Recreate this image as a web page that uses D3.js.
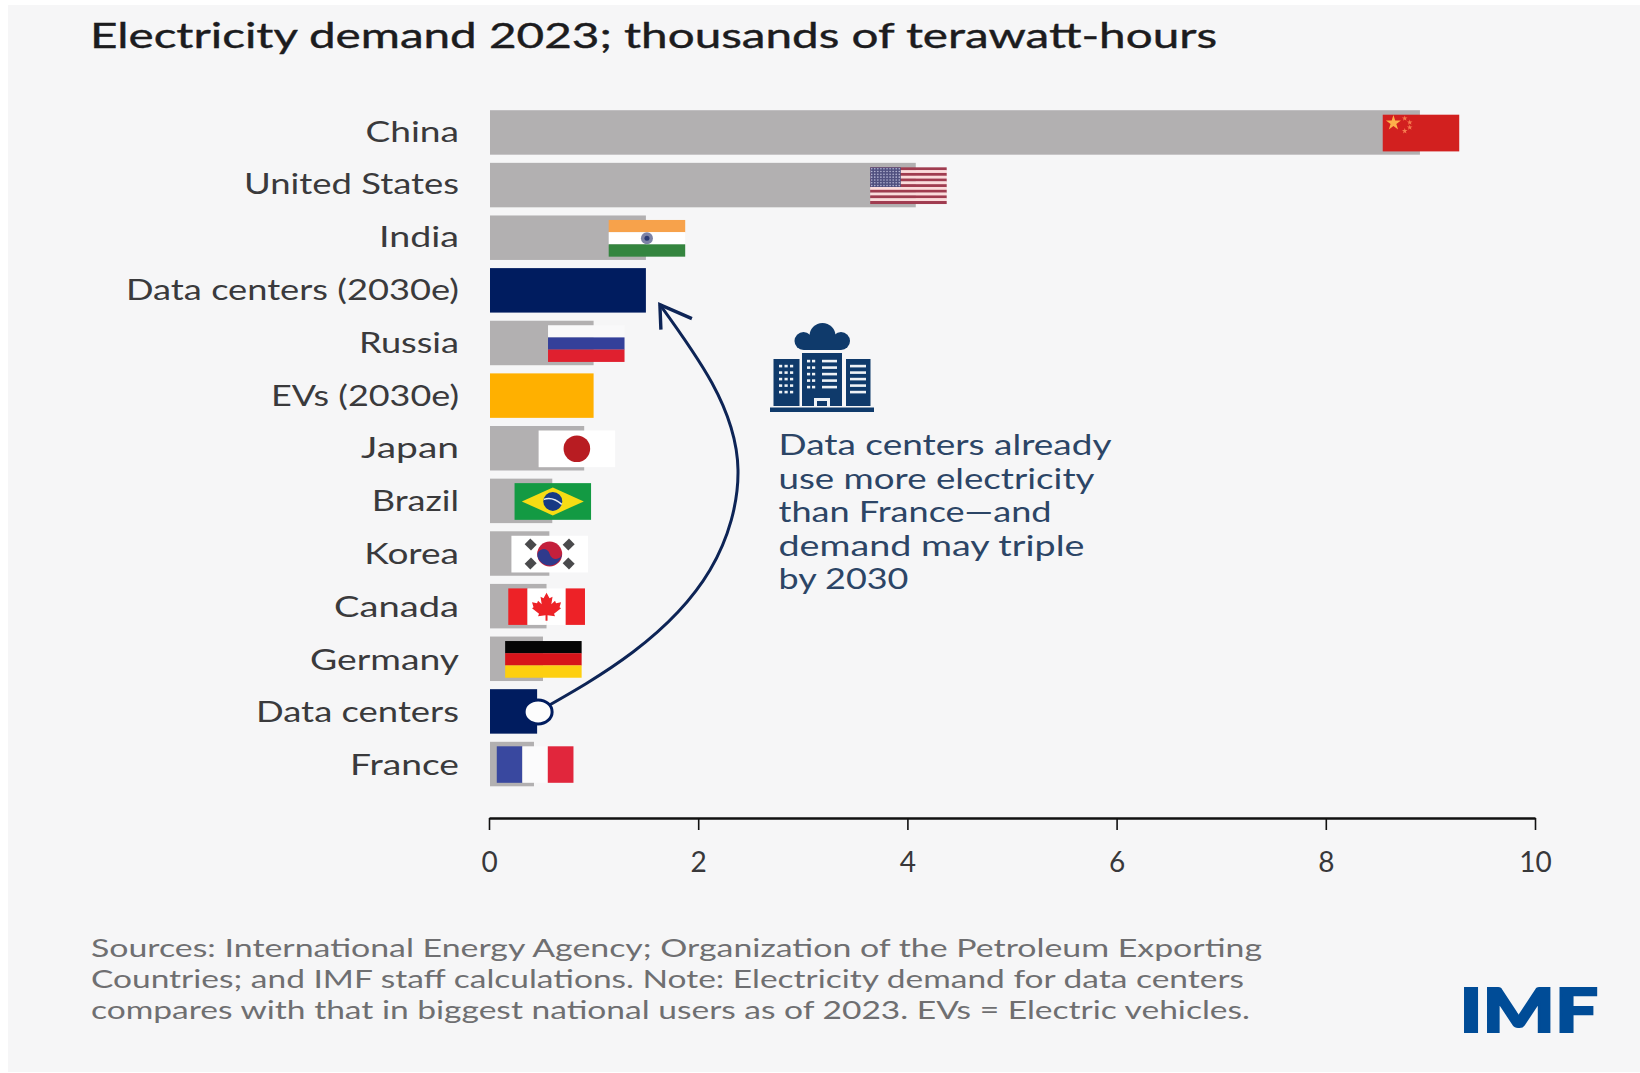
<!DOCTYPE html>
<html>
<head>
<meta charset="utf-8">
<script src="https://cdn.jsdelivr.net/npm/d3@7"></script>
<style>
  html, body { margin: 0; padding: 0; background: #fff; }
  svg { display: block; }
  text { font-family: Lato, "Open Sans", sans-serif; }
</style>
</head>
<body>
<div id="chart"></div>
<script>
const categories = ["China", "United States", "India", "Data centers (2030e)", "Russia", "EVs (2030e)",
    "Japan", "Brazil", "Korea", "Canada", "Germany", "Data centers", "France"];
const demand = [8.9, 4.08, 1.5, 1.5, 1.0, 1.0, 0.91, 0.605, 0.577, 0.55, 0.516, 0.46, 0.43];
// the flags do not sit exactly on the bar ends
const flagCountries = ["China", "United States", "India", "Russia", "Japan", "Brazil", "Korea", "Canada", "Germany", "France"];
const flagCenters = [8.91, 4.01, 1.51, 0.93, 0.84, 0.61, 0.58, 0.55, 0.52, 0.44];
const tickValues = [0, 2, 4, 6, 8, 10];

const titleText = "Electricity demand 2023; thousands of terawatt-hours";
const noteLines = ["Data centers already", "use more electricity", "than France\u2014and", "demand may triple", "by 2030"];
const sourceLines = ["Sources: International Energy Agency; Organization of the Petroleum Exporting",
    "Countries; and IMF staff calculations. Note: Electricity demand for data centers",
    "compares with that in biggest national users as of 2023. EVs = Electric vehicles."];

const width = 1640;
const height = 1073;
const navy = "#001c5f";
const iconBlue = "#0f3a6b";
const flagW = 76.5;
const flagH = 36.5;

const svg = d3.select("#chart").append("svg")
    .attr("width", width)
    .attr("height", height);

svg.append("rect")
    .attr("x", 8)
    .attr("y", 5)
    .attr("width", width - 8)
    .attr("height", 1067)
    .attr("fill", "#f6f6f7");

const x = d3.scaleLinear().domain([0, 10]).range([489, 1535]);
const y = d3.scaleBand().domain(categories).range([106, 790.5]).paddingInner(0.155).paddingOuter(0.08);

const barColor = d3.scaleOrdinal()
    .domain(["Data centers (2030e)", "Data centers", "EVs (2030e)"])
    .range([navy, navy, "#ffb000"])
    .unknown("#b2b0b1");

// stretch a text horizontally to a given width, the reference is a widened image
function fit(sel, w) {
    sel.attr("textLength", w).attr("lengthAdjust", "spacingAndGlyphs");
}

svg.append("text")
    .attr("x", 90)
    .attr("y", 48)
    .attr("font-size", 34)
    .attr("fill", "#1c1c1e")
    .attr("stroke", "#1c1c1e")
    .attr("stroke-width", 0.4)
    .text(titleText)
    .call(fit, 1127);

// bars
svg.append("g").selectAll("rect")
    .data(categories)
    .enter().append("rect")
    .attr("x", x(0) + 1)
    .attr("y", d => y(d))
    .attr("width", (d, i) => x(demand[i]) - x(0) - 1)
    .attr("height", y.bandwidth())
    .attr("fill", d => barColor(d));

// category labels
const labelWidths = [93.6, 215, 80, 333, 100, 188, 98, 87.3, 94.7, 125, 149, 203, 109];
svg.append("g").selectAll("text")
    .data(categories)
    .enter().append("text")
    .attr("x", 459)
    .attr("y", (d, i) => y(d) + y.bandwidth() / 2 + 9.2 + i * 0.17)
    .attr("text-anchor", "end")
    .attr("font-size", 28)
    .attr("fill", "#3a3a3c")
    .text(d => d)
    .each(function (d, i) { d3.select(this).call(fit, labelWidths[i]); });

// axis
const axis = svg.append("g")
    .attr("transform", "translate(0,818)")
    .call(d3.axisBottom(x).tickValues(tickValues).tickSize(12).tickSizeOuter(0).tickPadding(22));
axis.select(".domain").attr("stroke", "#111").attr("stroke-width", 2.5);
axis.selectAll(".tick line").attr("stroke", "#111").attr("stroke-width", 1.6);
axis.selectAll(".tick text")
    .attr("font-size", 28)
    .attr("font-family", "Lato, sans-serif")
    .attr("fill", "#38383a");

function stripes(g, colors) {
    const h = flagH / colors.length;
    g.selectAll(null)
        .data(colors)
        .enter().append("rect")
        .attr("x", -flagW / 2)
        .attr("y", (d, i) => -flagH / 2 + i * h)
        .attr("width", flagW)
        .attr("height", h + 0.2)
        .attr("fill", d => d);
}

function columns(g, colors) {
    const w = flagW / colors.length;
    g.selectAll(null)
        .data(colors)
        .enter().append("rect")
        .attr("x", (d, i) => -flagW / 2 + i * w)
        .attr("y", -flagH / 2)
        .attr("width", w + 0.2)
        .attr("height", flagH)
        .attr("fill", d => d);
}

const flagDrawers = {
    "China": g => {
        stripes(g, ["#d2201f"]);
        const star = d3.symbol().type(d3.symbolStar);
        g.append("path")
            .attr("d", star.size(70)())
            .attr("transform", `translate(${-flagW / 2 + 10.7},${-flagH / 2 + 8.3})`)
            .attr("fill", "#fdb04a");
        [[22, 3.7], [27, 7.7], [27, 12.7], [22, 16.3]].forEach(p => {
            g.append("path")
                .attr("d", star.size(10)())
                .attr("transform", `translate(${-flagW / 2 + p[0]},${-flagH / 2 + p[1]})`)
                .attr("fill", "#f67d50");
        });
    },
    "United States": g => {
        stripes(g, d3.range(13).map(i => i % 2 ? "#fbdcdc" : "#a03c50"));
        const cw = flagW * 0.4;
        const ch = flagH * 7 / 13;
        g.append("rect")
            .attr("x", -flagW / 2).attr("y", -flagH / 2)
            .attr("width", cw).attr("height", ch)
            .attr("fill", "#50507f");
        d3.range(7).forEach(r => d3.range(10).forEach(c => {
            g.append("circle")
                .attr("cx", -flagW / 2 + (c + 0.5) * cw / 10)
                .attr("cy", -flagH / 2 + (r + 0.5) * ch / 7)
                .attr("r", 0.8)
                .attr("fill", "#b9b9d6");
        }));
    },
    "India": g => {
        stripes(g, ["#f7a24b", "#ffffff", "#34853f"]);
        g.append("circle").attr("r", 6).attr("fill", "#7d83a6");
        g.append("circle").attr("r", 2.5).attr("fill", "#2c3a73");
    },
    "Russia": g => stripes(g, ["#f9f9fa", "#34409a", "#e0202f"]),
    "Japan": g => {
        stripes(g, ["#ffffff"]);
        g.append("circle").attr("r", 13.3).attr("fill", "#b81c22");
    },
    "Brazil": g => {
        stripes(g, ["#139a43"]);
        g.append("path")
            .attr("d", `M${-31},0L0,${-14}L31,0L0,14Z`)
            .attr("fill", "#f7dc14");
        g.append("circle").attr("r", 9.5).attr("fill", "#163a84");
        g.append("path")
            .attr("d", "M-9,-2Q0,-5 9,3")
            .attr("fill", "none")
            .attr("stroke", "#e6edf5")
            .attr("stroke-width", 1.4);
    },
    "Korea": g => {
        stripes(g, ["#ffffff"]);
        g.append("circle").attr("r", 12.5).attr("fill", "#c4203c");
        g.append("path")
            .attr("d", "M-12.2,2.5A12.5,12.5 0 0 0 12.2,-2.5A6.2,6.2 0 0 1 0,0A6.2,6.2 0 0 0 -12.2,2.5Z")
            .attr("fill", "#2f3a8c");
        [[-19, -9.5, 45], [19, -9.5, -45], [-19, 9.5, -45], [19, 9.5, 45]].forEach(t => {
            g.append("rect")
                .attr("x", -4.5).attr("y", -4)
                .attr("width", 9).attr("height", 8)
                .attr("transform", `translate(${t[0]},${t[1]}) rotate(${t[2]})`)
                .attr("fill", "#4a4a4c");
        });
    },
    "Canada": g => {
        columns(g, ["#ed2227", "#ffffff", "#ffffff", "#ed2227"]);
        g.append("path")
            .attr("d", "M0,-14L3,-8.5L6,-10L4.8,-2.5L8.5,-6L9.5,-3.5L14.5,-4.5L13,0.5L14.5,1.5L7.5,7L8.5,9.5L1,8.5V14H-1V8.5L-8.5,9.5L-7.5,7L-14.5,1.5L-13,0.5L-14.5,-4.5L-9.5,-3.5L-8.5,-6L-4.8,-2.5L-6,-10L-3,-8.5Z")
            .attr("fill", "#ed2227");
    },
    "Germany": g => stripes(g, ["#050505", "#d7141a", "#fdcf10"]),
    "France": g => columns(g, ["#39489f", "#fbfbfc", "#e1263c"])
};

const flags = svg.append("g");
flagCountries.forEach((c, i) => {
    const g = flags.append("g")
        .attr("transform", `translate(${x(flagCenters[i])},${y(c) + y.bandwidth() / 2 + 0.5})`);
    flagDrawers[c](g);
});

// arrow from data centers today to the 2030 bar
const arrowTip = [x(demand[3]) + 14, y(categories[3]) + y.bandwidth() - 8];
const dot = [x(demand[11]) + 1, y(categories[11]) + y.bandwidth() / 2];
const curve = d3.line().curve(d3.curveNatural);

svg.append("path")
    .attr("d", curve([dot, [633, 652], [710, 570], [738, 470], [712, 383], arrowTip]))
    .attr("fill", "none")
    .attr("stroke", "#0d2456")
    .attr("stroke-width", 3);

svg.append("path")
    .attr("d", d3.line()([[arrowTip[0] + 32, arrowTip[1] + 14], arrowTip, [arrowTip[0] + 1, arrowTip[1] + 25]]))
    .attr("fill", "none")
    .attr("stroke", "#0d2456")
    .attr("stroke-width", 3.4);

svg.append("ellipse")
    .attr("cx", dot[0])
    .attr("cy", dot[1] + 0.5)
    .attr("rx", 14)
    .attr("ry", 12)
    .attr("fill", "#fdfdfd")
    .attr("stroke", navy)
    .attr("stroke-width", 3);

// building with a cloud on top
const icon = svg.append("g").attr("fill", iconBlue);
icon.append("rect").attr("x", 770).attr("y", 407.5).attr("width", 104).attr("height", 4.5);
[[773.5, 359, 26, 47], [802, 353, 40, 53], [846, 359, 24.5, 47]].forEach(b => {
    icon.append("rect").attr("x", b[0]).attr("y", b[1]).attr("width", b[2]).attr("height", b[3]);
});
[[822.5, 336, 13], [803.5, 341, 9], [841, 341, 9]].forEach(c => {
    icon.append("circle").attr("cx", c[0]).attr("cy", c[1]).attr("r", c[2]);
});
icon.append("rect").attr("x", 804).attr("y", 336).attr("width", 37).attr("height", 14);

const windows = svg.append("g").attr("fill", "#eef2f6");
const windowRows = [366, 372.5, 379, 385.5, 392];
windowRows.forEach(wy => {
    [779, 784.5, 790].forEach(wx => {
        windows.append("rect").attr("x", wx).attr("y", wy - 1.2).attr("width", 3.2).attr("height", 2.6);
    });
    [807, 812].forEach(wx => {
        windows.append("rect").attr("x", wx).attr("y", wy - 6.2).attr("width", 3.2).attr("height", 2.6);
    });
    windows.append("rect").attr("x", 822).attr("y", wy - 6.2).attr("width", 15).attr("height", 2.6);
    windows.append("rect").attr("x", 850).attr("y", wy - 1.2).attr("width", 16).attr("height", 2.6);
});
windows.append("rect").attr("x", 814).attr("y", 398).attr("width", 16).attr("height", 8);
svg.append("rect").attr("x", 817).attr("y", 401).attr("width", 10).attr("height", 5).attr("fill", iconBlue);

// annotation
const noteWidths = [333, 316, 273, 306, 130];
svg.append("g").selectAll("text")
    .data(noteLines)
    .enter().append("text")
    .attr("x", 778.5)
    .attr("y", (d, i) => 455 + i * 33.5)
    .attr("font-size", 28)
    .attr("fill", "#2c4566")
    .text(d => d)
    .each(function (d, i) { d3.select(this).call(fit, noteWidths[i]); });

// sources
const sourceWidths = [1171, 1153, 1159];
svg.append("g").selectAll("text")
    .data(sourceLines)
    .enter().append("text")
    .attr("x", 91)
    .attr("y", (d, i) => 957 + i * 31)
    .attr("font-size", 25)
    .attr("fill", "#6f6f71")
    .text(d => d)
    .each(function (d, i) { d3.select(this).call(fit, sourceWidths[i]); });

svg.append("text")
    .attr("x", 1459.5)
    .attr("y", 1032)
    .attr("font-size", 60)
    .attr("font-weight", 900)
    .attr("fill", "#004c97")
    .attr("stroke", "#004c97")
    .attr("stroke-width", 2)
    .text("IMF")
    .call(fit, 138.5);
</script>
</body>
</html>
